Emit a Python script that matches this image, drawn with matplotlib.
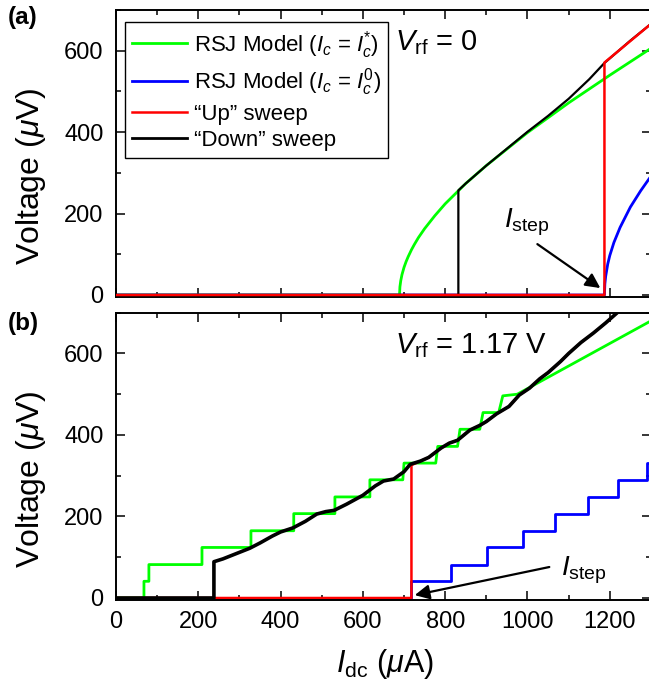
import numpy as np
import matplotlib
matplotlib.use("Agg")
import matplotlib.pyplot as plt
from matplotlib.ticker import MultipleLocator

plt.rcParams.update({"font.family": ["Liberation Sans", "DejaVu Sans"], "font.size": 17,
                     "mathtext.fontset": "custom", "mathtext.rm": "Liberation Sans",
                     "mathtext.it": "Liberation Sans:italic", "mathtext.bf": "Liberation Sans:bold",
                     "axes.linewidth": 1.4, "xtick.direction": "in", "ytick.direction": "in",
                     "xtick.top": True, "ytick.right": True,
                     "xtick.major.size": 6.5, "ytick.major.size": 6.5,
                     "xtick.minor.size": 3.5, "ytick.minor.size": 3.5,
                     "xtick.major.width": 1.1, "ytick.major.width": 1.1,
                     "xtick.minor.width": 1.1, "ytick.minor.width": 1.1})

GREEN, BLUE, RED, BLACK = "#00ff00", "#0000ff", "#ff0000", "#000000"

# ---- panel (a): V_rf = 0 ----
a_rsj_star_I = [0, 689, 690, 692, 695, 700, 705, 710, 718, 725, 735, 750, 775, 800, 850, 900,
                1000, 1100, 1200, 1300]
a_rsj_star_V = [0, 0, 20, 35, 50, 68, 82, 94, 111, 124, 141, 163, 195, 224, 274, 318,
                399, 472, 540, 606]
a_rsj_0_I = [0, 1187, 1188, 1190, 1195, 1200, 1210, 1225, 1250, 1275, 1300]
a_rsj_0_V = [0, 0, 27, 46, 76, 97, 129, 166, 216, 256, 292]
a_up_I = [0, 1187, 1187, 1250, 1300]
a_up_V = [0, 0, 571, 624, 666]
a_down_I = [0, 832, 832, 850, 900, 1000, 1050, 1100, 1150, 1187, 1250, 1300]
a_down_V = [0, 0, 257, 274, 318, 401, 440, 482, 530, 570, 625, 666]

# ---- panel (b): V_rf = 1.17 V ----
b_rsj_star_I = [0, 68, 68, 80, 80, 209, 209, 328, 328, 432, 432, 532, 532, 617, 617,
                697, 700, 777, 782, 830, 836, 884, 892, 930, 940, 975, 1300]
b_rsj_star_V = [0, 0, 41, 41, 82, 82, 124, 124, 165, 165, 207, 207, 248, 248, 290,
                290, 331, 331, 372, 372, 414, 414, 455, 455, 496, 500, 680]
b_rsj_0_I = [0, 718, 718, 813, 813, 902, 902, 988, 988, 1068, 1068, 1148, 1148, 1221, 1221, 1291, 1291, 1300]
b_rsj_0_V = [0, 0, 41, 41, 82, 82, 124, 124, 165, 165, 207, 207, 248, 248, 290, 290, 331, 331]
b_down_I = [0, 238, 238, 260, 290, 325, 350, 380, 400, 430, 460, 488, 510, 530, 560, 600, 630, 650,
            675, 700, 715, 740, 760, 790, 810, 830, 860, 885, 900, 925, 955, 980, 1005, 1030,
            1050, 1080, 1100, 1130, 1160, 1190, 1218, 1300]
b_down_V = [0, 0, 89, 96, 108, 122, 135, 152, 162, 172, 188, 206, 212, 215, 230, 252, 275, 287,
            292, 310, 328, 336, 345, 368, 380, 387, 412, 424, 433, 452, 470, 498, 515, 538,
            553, 580, 600, 627, 650, 675, 700, 770]
b_up_I = [0, 718, 718, 740, 760, 790, 810, 830, 860, 885, 900, 925, 955, 980, 1005, 1030,
          1050, 1080, 1100, 1130, 1160, 1190, 1218, 1300]
b_up_V = [0, 0, 326, 336, 345, 368, 380, 387, 412, 424, 433, 452, 470, 498, 515, 538,
          553, 580, 600, 627, 650, 675, 700, 770]

fig = plt.figure(figsize=(6.49, 6.94), dpi=100)
ax1 = fig.add_axes([0.1787, 0.572, 0.8243, 0.4135])
ax2 = fig.add_axes([0.1787, 0.1354, 0.8243, 0.414])

ax1.plot(a_rsj_star_I, a_rsj_star_V, color=GREEN, lw=2.0, label=r"RSJ Model ($I_c$ = $I_c^{*}$)")
ax1.plot(a_rsj_0_I, a_rsj_0_V, color=BLUE, lw=2.0, label=r"RSJ Model ($I_c$ = $I_c^{0}$)")
ax1.plot(a_down_I, a_down_V, color=BLACK, lw=1.6, zorder=3)
ax1.plot(a_up_I, a_up_V, color=RED, lw=1.8, zorder=4, label="\u201cUp\u201d sweep")
ax1.plot([], [], color=BLACK, lw=2.0, label="\u201cDown\u201d sweep")

ax2.plot(b_rsj_star_I, b_rsj_star_V, color=GREEN, lw=2.0)
ax2.plot(b_rsj_0_I, b_rsj_0_V, color=BLUE, lw=2.0)
ax2.plot(b_up_I, b_up_V, color=RED, lw=1.8)
ax2.plot(b_down_I, b_down_V, color=BLACK, lw=2.6)

leg = ax1.legend(loc="upper left", bbox_to_anchor=(0.017, 0.958), frameon=True, fancybox=False,
                 edgecolor="black", framealpha=1, fontsize=16, handlelength=2.5,
                 handletextpad=0.3, labelspacing=0.25, borderpad=0.3, borderaxespad=0)
leg.get_frame().set_linewidth(1.0)

ax1.text(678, 620, r"$V_{\rm rf}$ = 0", fontsize=21, va="center")
ax2.text(678, 620, r"$V_{\rm rf}$ = 1.17 V", fontsize=21, va="center")

arrow = dict(arrowstyle="-|>", color="black", lw=1.6, mutation_scale=22, shrinkA=0, shrinkB=0)
ax1.annotate("", xy=(1177, 17), xytext=(1024, 125), arrowprops=arrow)
ax1.text(998, 179, r"$I_{\rm step}$", fontsize=20, ha="center", va="center")
ax2.annotate("", xy=(726, 7), xytext=(1053, 76), arrowprops=arrow)
ax2.text(1138, 69, r"$I_{\rm step}$", fontsize=20, ha="center", va="center")

for ax in (ax1, ax2):
    ax.set_xlim(0, 1300)
    ax.set_ylim(-5, 700)
    ax.xaxis.set_major_locator(MultipleLocator(200))
    ax.xaxis.set_minor_locator(MultipleLocator(100))
    ax.yaxis.set_major_locator(MultipleLocator(200))
    ax.yaxis.set_minor_locator(MultipleLocator(100))
    ax.tick_params(which="both", labelsize=17)
    ax.tick_params(axis="y", pad=9)
    ax.tick_params(axis="x", pad=8)
    ax.set_ylabel(r"Voltage ($\mu$V)", fontsize=23)
    ax.yaxis.set_label_coords(-0.128, 0.42)
ax1.tick_params(labelbottom=False)
ax2.set_xlabel(r"$I_{\rm dc}$ ($\mu$A)", fontsize=22)
ax2.xaxis.set_label_coords(0.503, -0.165)

fig.text(0.012, 0.975, "(a)", fontsize=17.5, fontweight="bold", va="center")
fig.text(0.012, 0.534, "(b)", fontsize=17.5, fontweight="bold", va="center")

fig.savefig("out.png", dpi=100)
